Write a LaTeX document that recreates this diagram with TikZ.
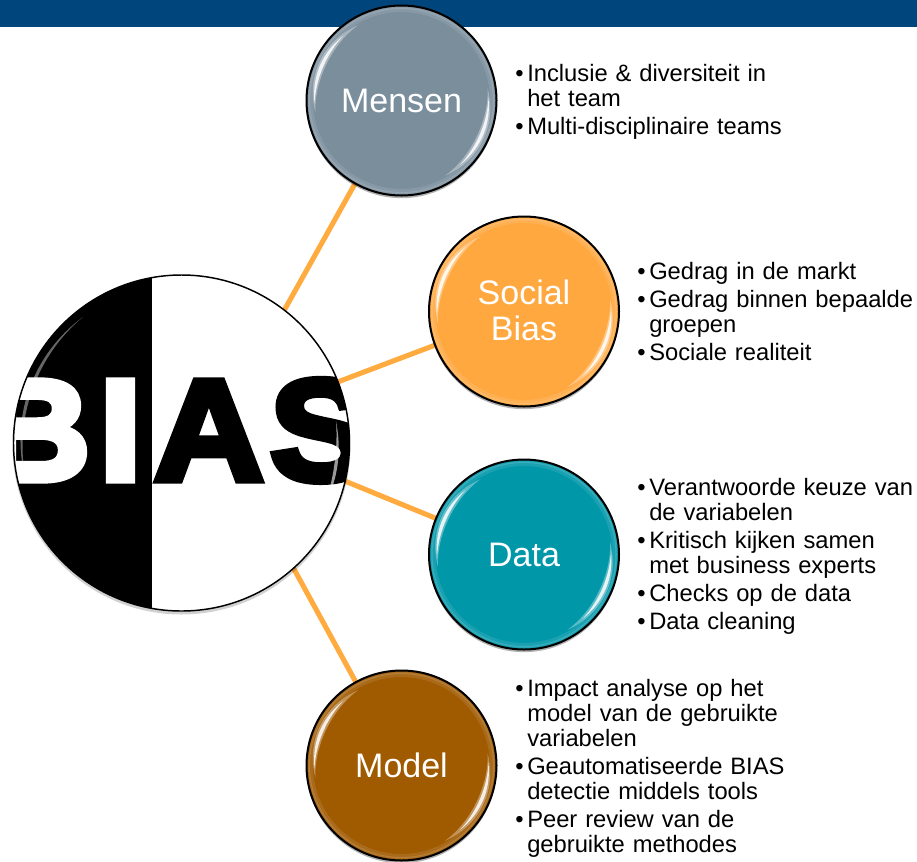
\documentclass[tikz,border=0pt]{standalone}
\usepackage{fontspec}
\setmainfont{Liberation Sans}
\font\heavyfont="Liberation Sans/B:embolden=5;extend=1.06" at 108pt
\usetikzlibrary{shadows,calc}
\definecolor{band}{HTML}{00467C}
\definecolor{linkc}{HTML}{FFAB40}
\definecolor{cMensen}{HTML}{7A8E9C}
\definecolor{cSocial}{HTML}{FFA840}
\definecolor{cData}{HTML}{0097A9}
\definecolor{cModel}{HTML}{A05A00}
\tikzset{
  x=0.75pt,y=-0.75pt,
  link/.style={draw=linkc,line width=3.8pt},
  ball/.style={circle,draw=black,line width=1.5pt,minimum size=190*0.75pt,inner sep=0pt,text=white,align=center,font=\fontsize{25.5pt}{26.3pt}\selectfont,
     drop shadow={shadow xshift=0pt,shadow yshift=-2pt,opacity=.3,fill=black}},
  bul/.style={anchor=north west,inner sep=0pt,text width=300pt,font=\fontsize{17.8pt}{18.75pt}\selectfont},
  bigletter/.style={anchor=base west,inner sep=0pt,font=\heavyfont}
}
\newcommand{\li}[1]{\par\noindent\makebox[9pt][l]{•}#1}
\newcommand{\lc}[1]{\par\noindent\hspace*{9pt}#1}
\newcommand{\gap}{\par\vskip2.2pt}
% centre, radius, start angle, end angle, half thickness, opacity (angles run clockwise on the page)
\newcommand{\glint}[6]{%
  \fill[white,opacity=#6,shift={(#1)}]
    plot[domain=0:1,samples=25] ({#3+(#4-#3)*\x}:{#2+#5*sin(180*\x)})
    -- plot[domain=1:0,samples=25] ({#3+(#4-#3)*\x}:{#2-#5*sin(180*\x)}) -- cycle;}
\newcommand{\rimglints}[1]{%
  \draw[white,opacity=.10,line width=3pt] (#1) circle[radius=90.5];
  \draw[white,opacity=.14,line width=1.5pt] (#1) circle[radius=92.5];
  \glint{#1}{87}{172}{240}{3.6}{.35}
  \glint{#1}{87}{178}{228}{1.7}{.85}
  \glint{#1}{87}{-8}{60}{3.6}{.35}
  \glint{#1}{87}{-2}{48}{1.7}{.85}}
\begin{document}
\begin{tikzpicture}
\useasboundingbox (0,0) rectangle (917,861);
\fill[band] (0,0) rectangle (917,27);
\coordinate (cb) at (181.5,443);
\coordinate (aimMensen) at (210,443);
\coordinate (aimSocial) at (181.5,441);
\coordinate (aimData) at (181.5,414);
\coordinate (aimModel) at (225,443);
\coordinate (cM) at (401.5,100.5);
\coordinate (cS) at (524,311.5);
\coordinate (cD) at (524,554.5);
\coordinate (cL) at (401.5,765.5);
\draw[link] (aimMensen) -- (cM);
\draw[link] (aimSocial) -- (cS);
\draw[link] (aimData) -- (cD);
\draw[link] (aimModel) -- (cL);
\node[ball,fill=cMensen] (mensen) at (cM) {Mensen};
\node[ball,fill=cSocial] (social) at (cS) {\raisebox{2pt}{Social}\\\raisebox{2pt}{Bias}};
\node[ball,fill=cData] (data) at (cD) {Data};
\node[ball,fill=cModel] (model) at (cL) {Model};
\fill[black,opacity=.18] ($(cb)+(0,2.5)$) circle[radius=169];
\fill[white] (cb) circle[radius=168];
\begin{scope}
\clip (cb) circle[radius=168];
\fill[black] (0,260) rectangle (152,630);
\node[bigletter,text=white] (letterB) at (-20,480) {B};
\node[bigletter,text=white] (letterI) at (99,480) {I};
\begin{scope}
\clip (152,260) rectangle (400,630);
\node[bigletter,text=black] (letterA) at (153.5,480) {A};
\node[bigletter,text=black] (letterS) at (269.5,480) {S};
\end{scope}
\glint{cb}{160}{165}{232}{1.6}{.4}
\glint{cb}{156}{-8}{24}{1.6}{.6}
\end{scope}
\draw[black,line width=1.1pt] (cb) circle[radius=168];
\rimglints{cM}
\rimglints{cS}
\rimglints{cD}
\rimglints{cL}
\node[bul] (t1) at (515,56) {\li{Inclusie \& diversiteit in}\lc{het team}\gap\li{Multi-disciplinaire teams}};
\node[bul] (t2) at (637,254) {\li{Gedrag in de markt}\gap\li{Gedrag binnen bepaalde}\lc{groepen}\gap\li{Sociale realiteit}};
\node[bul] (t3) at (637,470) {\li{Verantwoorde keuze van}\lc{de variabelen}\gap\li{Kritisch kijken samen}\lc{met business experts}\gap\li{Checks op de data}\gap\li{Data cleaning}};
\node[bul] (t4) at (515,671) {\li{Impact analyse op het}\lc{model van de gebruikte}\lc{variabelen}\gap\li{Geautomatiseerde BIAS}\lc{detectie middels tools}\gap\li{Peer review van de}\lc{gebruikte methodes}};
\end{tikzpicture}
\end{document}
